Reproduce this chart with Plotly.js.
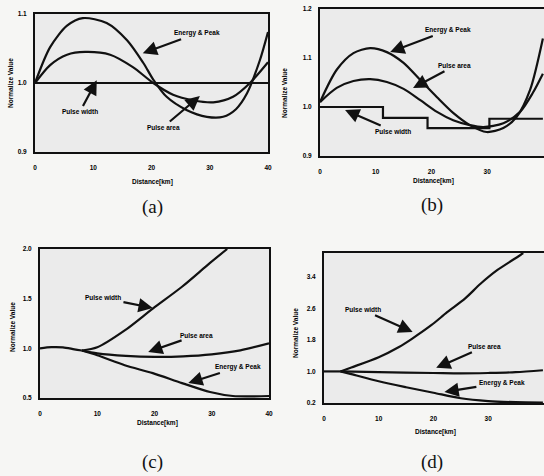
<!DOCTYPE html>
<html>
<head>
<meta charset="utf-8">
<script src="https://cdn.plot.ly/plotly-3.0.1.min.js"></script>
<style>
html,body{margin:0;padding:0;background:#f6f6f4;}
#chart{width:544px;height:476px;}
</style>
</head>
<body>
<div id="chart"></div>
<script>
// ---- Data ----
// (a)
const aEnergyX = [0, 2.6, 5.5, 8.2, 12.3, 15.8, 18.6, 20.3, 22.6, 26, 29.5, 32.3, 34.5, 36.4, 38.6, 40];
const aEnergyY = [1.0, 1.052, 1.083, 1.094, 1.087, 1.062, 1.029, 1.005, 0.98, 0.961, 0.951, 0.951, 0.962, 0.985, 1.033, 1.074];
const aAreaX = [0, 2.6, 5.5, 8.6, 12.9, 16.8, 20.3, 23.7, 27.1, 30.6, 34, 36.9, 40];
const aAreaY = [1.0, 1.026, 1.041, 1.045, 1.041, 1.023, 1.0, 0.983, 0.975, 0.972, 0.98, 1.0, 1.03];
const aWidthX = [0, 40];
const aWidthY = [1.0, 1.0];
// (b)
const bEnergyX = [0, 3, 6, 9, 12, 15, 18, 21, 23.9, 26.9, 29.9, 32.9, 35.3, 37.7, 40];
const bEnergyY = [1.01, 1.076, 1.110, 1.120, 1.112, 1.090, 1.055, 1.020, 0.988, 0.963, 0.949, 0.957, 0.980, 1.035, 1.14];
const bAreaX = [0, 3, 6, 9, 12, 15, 18, 21, 23.9, 26.9, 29.3, 32.9, 35.9, 38.2, 40];
const bAreaY = [1.01, 1.039, 1.053, 1.057, 1.051, 1.037, 1.014, 0.990, 0.973, 0.963, 0.959, 0.967, 0.990, 1.029, 1.068];
const bWidthX = [0, 11.3, 19.3, 30.4, 40];
const bWidthY = [1.0, 0.978, 0.957, 0.976, 0.976];
// (c)
const cCommonX = [0, 2, 4, 6, 7.3];
const cCommonY = [1.0, 1.012, 1.01, 0.99, 0.978];
const cWidthX = [7.3, 10, 14.8, 19.7, 24.8, 29.7, 32.7];
const cWidthY = [0.978, 1.01, 1.18, 1.40, 1.62, 1.86, 2.0];
const cAreaX = [7.3, 10, 15, 20, 25, 30, 35, 40];
const cAreaY = [0.978, 0.95, 0.925, 0.915, 0.92, 0.94, 0.98, 1.05];
const cEnergyX = [7.3, 10, 14.8, 19.7, 24.8, 29.7, 33.7, 40];
const cEnergyY = [0.978, 0.93, 0.83, 0.75, 0.65, 0.56, 0.52, 0.52];
// (d)
const dCommonX = [0, 3];
const dCommonY = [1.0, 1.0];
const dWidthX = [3, 5, 10, 13.7, 16, 19.6, 22.5, 25.8, 28.6, 31.7, 35.9, 36.4];
const dWidthY = [1.0, 1.1, 1.36, 1.62, 1.82, 2.17, 2.5, 2.85, 3.22, 3.57, 3.95, 4.0];
const dAreaX = [3, 10, 20, 25, 30, 35, 40];
const dAreaY = [1.0, 0.98, 0.96, 0.95, 0.96, 0.98, 1.03];
const dEnergyX = [3, 5, 10, 15, 20, 25, 30, 35, 40];
const dEnergyY = [1.0, 0.93, 0.75, 0.6, 0.46, 0.32, 0.25, 0.22, 0.21];

// tick labels
const xTicks = [0, 10, 20, 30, 40];
const xTickText = ['0', '10', '20', '30', '40'];
const aYTicks = [0.9, 1.0, 1.1];
const aYTickText = ['0.9', '1.0', '1.1'];
const bYTicks = [0.9, 1.0, 1.1, 1.2];
const bYTickText = ['0.9', '1.0', '1.1', '1.2'];
const cYTicks = [0.5, 1.0, 1.5, 2.0];
const cYTickText = ['0.5', '1.0', '1.5', '2.0'];
const dYTicks = [0.2, 1.0, 1.8, 2.6, 3.4];
const dYTickText = ['0.2', '1.0', '1.8', '2.6', '3.4'];

const labelEnergy = 'Energy & Peak';
const labelArea = 'Pulse area';
const labelWidth = 'Pulse width';
const xTitle = 'Distance[km]';
const yTitle = 'Normalize Value';

// ---- Build figure ----
const W = 544, H = 476;
const LINE = {color: '#111', width: 2.2, shape: 'spline', smoothing: 0.8};
function tr(x, y, ax, extra) {
  const n = ax === 1 ? '' : String(ax);
  return Object.assign({x: x, y: y, xaxis: 'x' + n, yaxis: 'y' + n, mode: 'lines',
    line: Object.assign({}, LINE), hoverinfo: 'skip', showlegend: false}, extra || {});
}
const traces = [
  tr(aWidthX, aWidthY, 1, {line: {color: '#111', width: 2.2}}),
  tr(aEnergyX, aEnergyY, 1),
  tr(aAreaX, aAreaY, 1),
  tr(bWidthX, bWidthY, 2, {line: {color: '#111', width: 2.2, shape: 'hv'}}),
  tr(bEnergyX, bEnergyY, 2),
  tr(bAreaX, bAreaY, 2),
  tr(cCommonX, cCommonY, 3),
  tr(cWidthX, cWidthY, 3),
  tr(cAreaX, cAreaY, 3),
  tr(cEnergyX, cEnergyY, 3),
  tr(dCommonX, dCommonY, 4, {line: {color: '#111', width: 2.2}}),
  tr(dWidthX, dWidthY, 4),
  tr(dAreaX, dAreaY, 4),
  tr(dEnergyX, dEnergyY, 4)
];

const tickFont = {family: 'Liberation Sans, Arial, sans-serif', size: 6.5, color: '#000', weight: 'bold'};
function xa(px0, px1, range, anchor) {
  return {domain: [px0 / W, px1 / W], range: range, anchor: anchor,
    tickvals: xTicks, ticktext: xTickText, ticks: '', ticklabelstandoff: 8,
    showgrid: false, zeroline: false, showline: true, mirror: true,
    linecolor: '#111', linewidth: 2, tickfont: tickFont, fixedrange: true};
}
function ya(py0, py1, range, anchor, tv, tt) {
  return {domain: [1 - py1 / H, 1 - py0 / H], range: range, anchor: anchor,
    tickvals: tv, ticktext: tt, ticks: '', ticklabelstandoff: 5,
    showgrid: false, zeroline: false, showline: true, mirror: true,
    linecolor: '#111', linewidth: 2, tickfont: tickFont, fixedrange: true};
}

const annFont = {family: 'Liberation Sans, Arial, sans-serif', size: 6.5, color: '#000', weight: 'bold'};
function arrow(n, text, tx, ty, hx, hy) {
  const s = n === 1 ? '' : String(n);
  return {xref: 'x' + s, yref: 'y' + s, axref: 'x' + s, ayref: 'y' + s,
    x: hx, y: hy, ax: tx, ay: ty, text: text, showarrow: true,
    arrowhead: 2, arrowsize: 1.3, arrowwidth: 2.2, arrowcolor: '#111',
    standoff: 0, startstandoff: 1, font: annFont};
}
function ptext(text, px, py, size, angle, serif) {
  return {xref: 'paper', yref: 'paper', x: px / W, y: 1 - py / H, text: text,
    showarrow: false, xanchor: 'center', yanchor: 'middle', textangle: angle || 0,
    font: serif ? {family: 'Liberation Serif, Times New Roman, serif', size: size, color: '#111'}
                : {family: 'Liberation Sans, Arial, sans-serif', size: size, color: '#000', weight: 'bold'}};
}

const annotations = [
  arrow(1, labelEnergy, 27.8, 1.072, 18.5, 1.043),
  arrow(1, labelWidth, 7.7, 0.958, 10.6, 1.004),
  arrow(1, labelArea, 22.0, 0.936, 28.3, 0.981),
  arrow(2, labelEnergy, 23.0, 1.157, 12.6, 1.112),
  arrow(2, labelArea, 24.2, 1.084, 16.7, 1.039),
  arrow(2, labelWidth, 13.1, 0.951, 4.5, 0.994),
  arrow(3, labelWidth, 11.0, 1.507, 19.7, 1.406),
  arrow(3, labelArea, 27.4, 1.134, 18.9, 0.963),
  arrow(3, labelEnergy, 34.6, 0.81, 25.9, 0.65),
  arrow(4, labelWidth, 7.1, 2.56, 16.2, 2.0),
  arrow(4, labelArea, 29.3, 1.62, 20.5, 1.09),
  arrow(4, labelEnergy, 32.5, 0.71, 22.0, 0.48),
  ptext(xTitle, 152, 182, 6.5), ptext(yTitle, 10, 83, 6.5, -90),
  ptext(xTitle, 433, 181, 6.5), ptext(yTitle, 285, 93, 6.5, -90),
  ptext(xTitle, 157, 423, 6.5), ptext(yTitle, 12, 327, 6.5, -90),
  ptext(xTitle, 435, 432, 6.5), ptext(yTitle, 295, 333, 6.5, -90),
  ptext('(a)', 152, 207, 19, 0, true),
  ptext('(b)', 432, 205, 19, 0, true),
  ptext('(c)', 152, 462, 19, 0, true),
  ptext('(d)', 432, 462, 19, 0, true)
];

const layout = {
  width: W, height: H,
  margin: {l: 0, r: 0, t: 0, b: 0},
  paper_bgcolor: '#f6f6f4', plot_bgcolor: '#ebebeb',
  showlegend: false,
  xaxis: xa(35, 268, [0, 40], 'y'),
  yaxis: ya(14, 152, [0.9, 1.1], 'x', aYTicks, aYTickText),
  xaxis2: xa(320, 544, [0, 40.2], 'y2'),
  yaxis2: ya(9, 156, [0.9, 1.2], 'x2', bYTicks, bYTickText),
  xaxis3: xa(40, 269, [0, 40], 'y3'),
  yaxis3: ya(249, 398, [0.5, 2.0], 'x3', cYTicks, cYTickText),
  xaxis4: xa(324, 544, [0, 40.2], 'y4'),
  yaxis4: ya(253, 403, [0.2, 4.0], 'x4', dYTicks, dYTickText),
  annotations: annotations
};

Plotly.newPlot('chart', traces, layout, {displayModeBar: false, staticPlot: true});
</script>
</body>
</html>
